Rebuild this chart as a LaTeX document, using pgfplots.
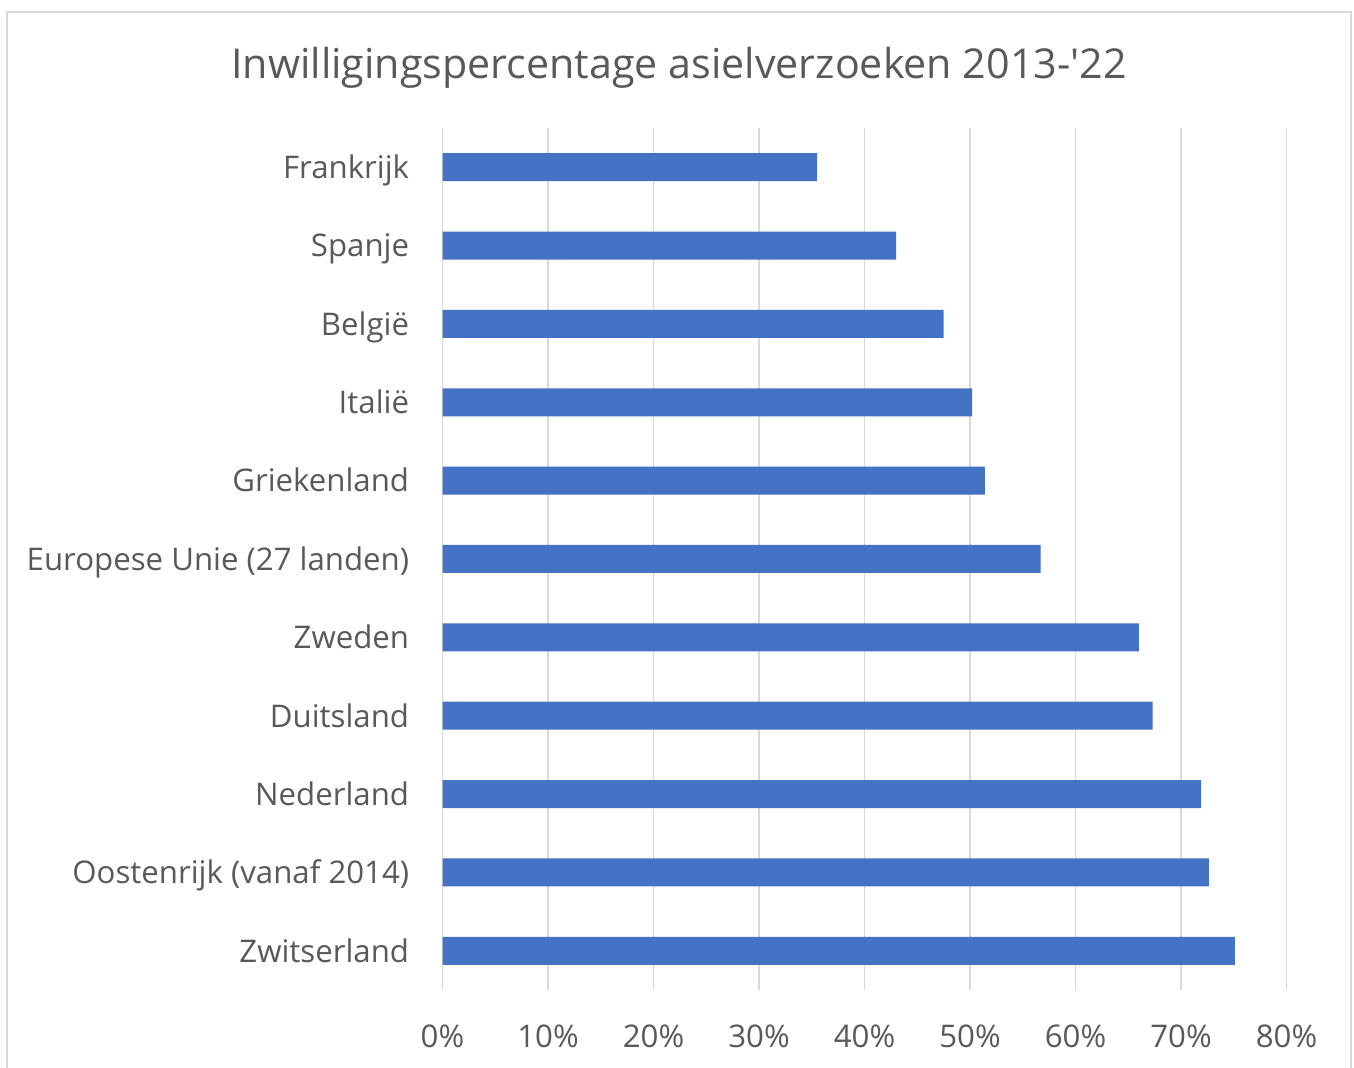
\documentclass[border=0pt]{standalone}
\usepackage{fontspec}
\setmainfont{Open Sans}
\usepackage{pgfplots}
\pgfplotsset{compat=1.18}
\definecolor{barblue}{HTML}{4472C4}
\definecolor{gridgray}{HTML}{D9D9D9}
\definecolor{txtgray}{HTML}{595959}
\begin{document}
\begin{tikzpicture}
\useasboundingbox (0pt,0pt) rectangle (677pt,534pt);
\fill[white] (0pt,0pt) rectangle (677pt,534pt);
\draw[gridgray, line width=0.75pt] (3.5pt,-5pt) rectangle (675.5pt,528pt);
\node[txtgray, font=\fontsize{20.6}{25}\selectfont] at (339.5pt,500pt) {Inwilligingspercentage asielverzoeken 2013-\textquotesingle 22};
\begin{axis}[
  at={(221.25pt,39pt)}, anchor=south west, scale only axis,
  width=422pt, height=431pt,
  xbar, bar width=14pt,
  xmin=0, xmax=80, ymin=-0.5, ymax=10.5, y dir=reverse,
  ytick={0,...,10},
  yticklabels={Frankrijk,Spanje,België,Italië,Griekenland,Europese Unie (27 landen),Zweden,Duitsland,Nederland,Oostenrijk (vanaf 2014),Zwitserland},
  xtick={0,10,...,80},
  xticklabels={0\%,10\%,20\%,30\%,40\%,50\%,60\%,70\%,80\%},
  axis line style={draw=none},
  major tick length=0pt,
  xmajorgrids, ymajorgrids=false,
  grid style={gridgray, line width=0.9pt},
  yticklabel style={font=\fontsize{15.6}{18}\selectfont, text=txtgray, inner sep=0pt, anchor=mid east, xshift=-16.5pt, yshift=-3pt},
  xticklabel style={font=\fontsize{15.6}{18}\selectfont, text=txtgray, inner sep=0pt, yshift=-17pt},
]
\addplot[fill=barblue, draw=none] coordinates {
(35.5,0) (43.0,1) (47.5,2) (50.2,3) (51.4,4) (56.7,5) (66.0,6) (67.3,7) (71.9,8) (72.65,9) (75.1,10)};
\end{axis}
\end{tikzpicture}
\end{document}
